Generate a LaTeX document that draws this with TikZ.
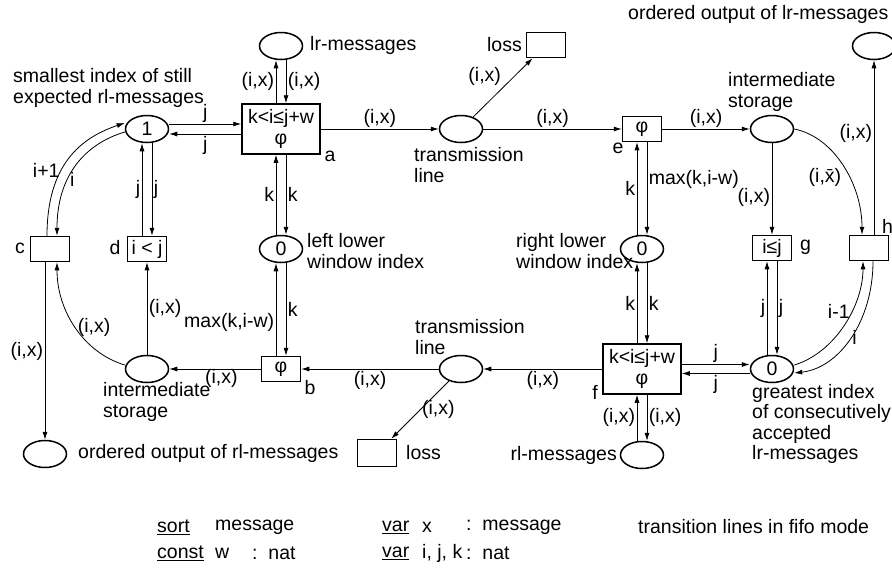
\documentclass[tikz,border=0pt]{standalone}
\usepackage{fontspec}
\setmainfont{Liberation Sans}
\usetikzlibrary{arrows.meta,shapes.geometric}

\begin{document}
\begin{tikzpicture}[x=1pt, y=-1pt,
    font=\fontsize{19.5}{20.5}\selectfont,
    place/.style={ellipse, draw, line width=1.5pt, minimum width=43, minimum height=27, inner sep=0pt},
    trans/.style={rectangle, draw, line width=1.5pt, minimum width=39, minimum height=25, inner sep=1pt},
    bigtrans/.style={trans, minimum width=78, minimum height=50, align=center},
    arc/.style={-{Latex[length=8pt,width=5pt]}, line width=0.8pt},
    lab/.style={inner sep=1.5pt},
    txt/.style={inner sep=0pt, anchor=west, align=left}]
            \useasboundingbox (0,0) rectangle (892,568);
            % Define places
            \node[place] (one) at (147,129) {1};
            \node[place] (lrm) at (281,46) {};
            \node[place] (tl1) at (461,129) {};
            \node[place] (is1) at (772,129) {};
            \node[place] (ool) at (874,46) {};
            \node[place] (lw) at (281,249) {0};
            \node[place] (rw) at (642,249) {0};
            \node[place] (gi) at (772,369) {0};
            \node[place] (rlm) at (642,455) {};
            \node[place] (tl2) at (461,369) {};
            \node[place] (is2) at (147,369) {};
            \node[place] (oor) at (45,454) {};
            % Define transitions
            \node[bigtrans] (a) at (281,129) {k<i≤j+w\\φ};
            \node[bigtrans] (f) at (642,369) {k<i≤j+w\\φ};
            \node[trans] (e) at (642,129) {φ};
            \node[trans] (b) at (281,369) {φ};
            \node[trans] (g) at (772,248) {i≤j};
            \node[trans] (h) at (869,248) {};
            \node[trans] (c) at (50,249) {};
            \node[trans] (d) at (147,249) {i < j};
            \node[trans] (loss1) at (546,45) {};
            \node[trans, minimum height=27] (loss2) at (377,453) {};
            % Names of transitions
            \node[lab] (na) at (330,156) {a};
            \node[lab] (nb) at (310,388) {b};
            \node[lab] (nc) at (20,248) {c};
            \node[lab] (nd) at (115,248) {d};
            \node[lab] (ne) at (618,148) {e};
            \node[lab] (nf) at (595,392) {f};
            \node[txt] (ng) at (800,247) {g};
            \node[txt] (nh) at (882,226) {h};
            % Texts next to places
            \node[txt] (tsmall) at (13,88) {smallest index of still\\expected rl-messages};
            \node[txt] (tlrm) at (310,45) {lr-messages};
            \node[txt, anchor=east] (tloss1) at (522,45) {loss};
            \node[txt] (ttl1) at (414,165) {transmission\\line};
            \node[txt] (tis1) at (728,92) {intermediate\\storage};
            \node[txt] (tool) at (628,14) {ordered output of lr-messages};
            \node[txt] (tlw) at (307,251) {left lower\\window index};
            \node[txt] (trw) at (516,251) {right lower\\window index};
            \node[txt] (ttl2) at (415,337) {transmission\\line};
            \node[txt] (tis2) at (103,402) {intermediate\\storage};
            \node[txt] (toor) at (78,453) {ordered output of rl-messages};
            \node[txt] (tloss2) at (406,453) {loss};
            \node[txt, anchor=east] (trlm) at (617,455) {rl-messages};
            \node[txt] (tgi) at (752,424) {greatest index\\of consecutively\\accepted\\lr-messages};
            % Left part
            \draw[arc] ([yshift=5]one.east) -- ([yshift=5]a.west) node[lab, midway, above] (j1) {j};
            \draw[arc] ([yshift=-5]a.west) -- ([yshift=-5]one.east) node[lab, midway, below] (j2) {j};
            \draw[arc] ([xshift=-5]a.north) -- ([xshift=-5]lrm.south) node[lab, midway, left] (ix1) {(i,x)};
            \draw[arc] ([xshift=5]lrm.south) -- ([xshift=5]a.north) node[lab, midway, right] (ix2) {(i,x)};
            \draw[arc] ([xshift=-5]lw.north) -- ([xshift=-5]a.south) node[lab, midway, left] (k1) {k};
            \draw[arc] ([xshift=5]a.south) -- ([xshift=5]lw.north) node[lab, midway, right] (k2) {k};
            \draw[arc] ([xshift=-5]b.north) -- ([xshift=-5]lw.south) node[lab, pos=0.36, left] (m1) {max(k,i-w)};
            \draw[arc] ([xshift=5]lw.south) -- ([xshift=5]b.north) node[lab, midway, right] (k3) {k};
            \draw[arc] ([xshift=-5]d.north) -- ([xshift=-5]one.south) node[lab, midway, left] (j3) {j};
            \draw[arc] ([xshift=5]one.south) -- ([xshift=5]d.north) node[lab, midway, right] (j4) {j};
            \draw[arc] ([xshift=-3]c.north) .. controls +(0,-70) and +(-45,15) .. ([yshift=6]one.west) node[lab, pos=0.4, left] (i1) {i+1};
            \draw[arc] ([yshift=-3]one.west) .. controls +(-40,12) and +(0,-60) .. ([xshift=7]c.north) node[lab, pos=0.62, right] (i2) {i};
            \draw[arc] (b) -- (is2) node[lab, pos=0.43, below, inner sep=0pt] (ix3) {(i,x)};
            \draw[arc] (is2) -- (d) node[lab, midway, right] (ix4) {(i,x)};
            \draw[arc] ([yshift=4]is2.west) .. controls +(-40,-12) and +(0,50) .. ([xshift=7]c.south) node[lab, pos=0.5, right] (ix5) {(i,x)};
            \draw[arc] (c.south -| oor.north) -- (oor.north) node[lab, midway, left] (ix6) {(i,x)};
            % Transmission lines
            \draw[arc] (a) -- (tl1) node[lab, midway, above] (ix7) {(i,x)};
            \draw[arc] (tl1) -- (loss1) node[lab, midway, above left] (ix8) {(i,x)};
            \draw[arc] (tl1) -- (e) node[lab, midway, above] (ix9) {(i,x)};
            \draw[arc] (f) -- (tl2) node[lab, midway, below] (ix10) {(i,x)};
            \draw[arc] (tl2) -- (loss2) node[lab, midway, right] (ix11) {(i,x)};
            \draw[arc] (tl2) -- (b) node[lab, midway, below] (ix12) {(i,x)};
            % Right part
            \draw[arc] (e) -- (is1) node[lab, midway, above] (ix13) {(i,x)};
            \draw[arc] ([xshift=-5]rw.north) -- ([xshift=-5]e.south) node[lab, midway, left] (k4) {k};
            \draw[arc] ([xshift=5]e.south) -- ([xshift=5]rw.north) node[lab, pos=0.4, right] (m2) {max(k,i-w)};
            \draw[arc] ([xshift=-5]f.north) -- ([xshift=-5]rw.south) node[lab, midway, left] (k5) {k};
            \draw[arc] ([xshift=5]rw.south) -- ([xshift=5]f.north) node[lab, midway, right] (k6) {k};
            \draw[arc] ([xshift=-5]rlm.north) -- ([xshift=-5]f.south) node[lab, midway, left] (ix14) {(i,x)};
            \draw[arc] ([xshift=5]f.south) -- ([xshift=5]rlm.north) node[lab, midway, right] (ix15) {(i,x)};
            \draw[arc] ([yshift=4.5]f.east) -- ([yshift=4.5]gi.west) node[lab, midway, above] (j5) {j};
            \draw[arc] ([yshift=-4.5]gi.west) -- ([yshift=-4.5]f.east) node[lab, midway, below] (j6) {j};
            \draw[arc] (is1) -- (g) node[lab, pos=0.59, left] (ix16) {(i,x)};
            \draw[arc] ([xshift=-5]gi.north) -- ([xshift=-5]g.south) node[lab, midway, left] (j7) {j};
            \draw[arc] ([xshift=5]g.south) -- ([xshift=5]gi.north) node[lab, midway, right] (j8) {j};
            \draw[arc] (is1.east) .. controls +(40,8) and +(0,-50) .. ([xshift=-7]h.north) node[lab, pos=0.5, below left] (ix17) {(i,\={x})};
            \draw[arc] (h.north -| ool.south) -- (ool.south) node[lab, pos=0.58, left] (ix18) {(i,x)};
            \draw[arc] ([yshift=4]gi.east) .. controls +(40,-12) and +(0,45) .. ([xshift=-6]h.south) node[lab, pos=0.62, left] (i3) {i-1};
            \draw[arc] ([xshift=4]h.south) .. controls +(0,60) and +(45,-5) .. ([yshift=-4]gi.east) node[lab, pos=0.5, right] (i4) {i};
            % Declarations
            \node[txt] (dsort) at (157,527) {\underline{sort}};
            \node[txt] (dmsg) at (215,527) {message};
            \node[txt] (dconst) at (157,553) {\underline{const}};
            \node[txt] (dw) at (215,553) {w};
            \node[txt] (dnat) at (252,553) {:\ \ nat};
            \node[txt] (dvar1) at (382,527) {\underline{var}};
            \node[txt] (dx) at (422,527) {x};
            \node[txt] (dmsg2) at (466,527) {:\ \ message};
            \node[txt] (dvar2) at (382,553) {\underline{var}};
            \node[txt] (dijk) at (422,553) {i, j, k};
            \node[txt] (dnat2) at (466,553) {:\ \ nat};
            \node[txt] (dfifo) at (638,527) {transition lines in fifo mode};
          \end{tikzpicture}
\end{document}
